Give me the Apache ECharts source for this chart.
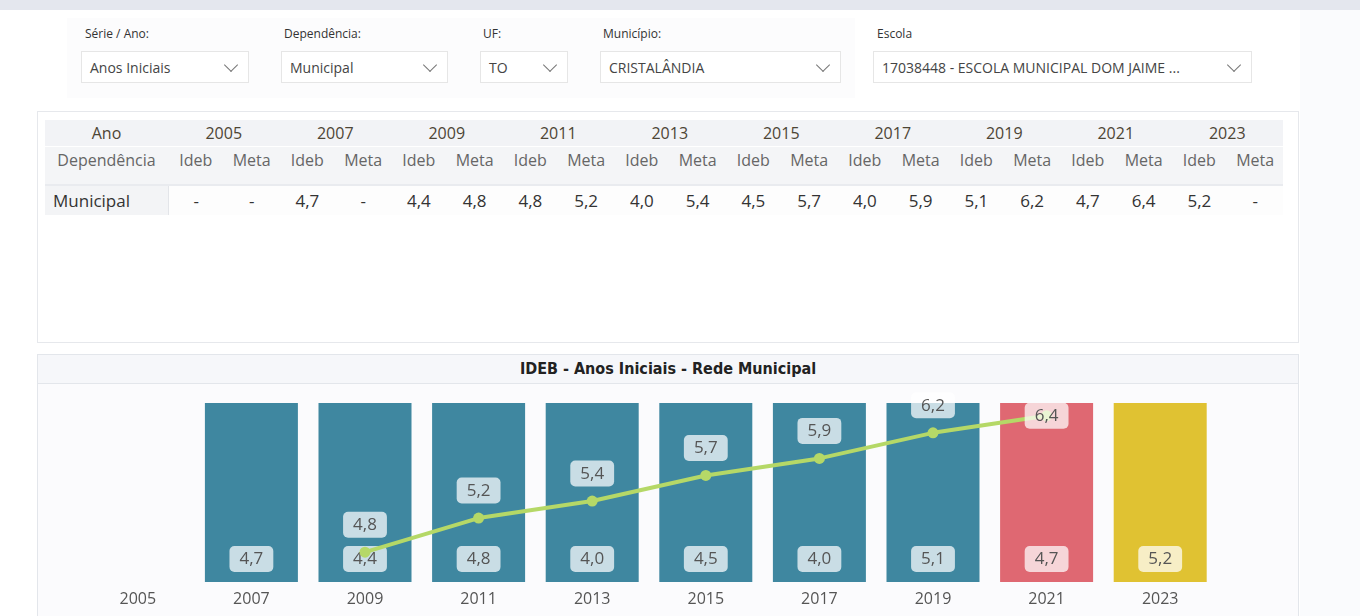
<!DOCTYPE html>
<html>
<head>
<meta charset="utf-8">
<script src="https://cdn.jsdelivr.net/npm/echarts@6/dist/echarts.min.js"></script>
<style>
  body { margin: 0; width: 1360px; height: 616px; overflow: hidden; background: #ffffff; font-family: "Open Sans", "Noto Sans", sans-serif; position: relative; }
  .abs { position: absolute; }
  .topband { left: 0; top: 0; width: 1360px; height: 10px; background: #e4e7ee; }
  .rightstrip { left: 1300px; top: 10px; width: 60px; height: 606px; background: #fafbfd; }
  .panel1 { left: 67px; top: 18px; width: 788px; height: 80px; background: #fcfcfd; }
  .panel2 { left: 857px; top: 18px; width: 411px; height: 80px; background: #ffffff; }
  .flabel { font-size: 12px; color: #333; }
  .fbox { height: 32px; border: 1px solid #e6e6e6; background: #fff; box-sizing: border-box; font-size: 14px; color: #444; line-height: 32px; padding-left: 8px; white-space: nowrap; }
  .chev { position: absolute; right: 12px; top: 8px; width: 9px; height: 9px; border-right: 1.3px solid #777; border-bottom: 1.3px solid #777; transform: rotate(45deg); }
  .tpanel { left: 37px; top: 111px; width: 1262px; height: 232px; border: 1px solid #e6e8ec; box-sizing: border-box; background: #fff; }
  table { position: absolute; left: 45px; top: 120px; border-collapse: collapse; table-layout: fixed; width: 1238px; }
  td { padding: 0; text-align: center; white-space: nowrap; }
  tr.h1 td { background: #f2f3f6; height: 26px; font-size: 16px; color: #4d4535; border-bottom: 1px solid #ffffff; }
  tr.h2 td { background: #f4f5f7; height: 35px; font-size: 16px; color: #666; vertical-align: top; padding-top: 2px; border-bottom: 2px solid #e9ebef; }
  tr.d td { height: 29px; font-size: 17px; color: #333; background: #fdfdfd; }
  tr.d td.first { background: #f3f4f6; border-right: 1px solid #e3e5e9; text-align: left; padding-left: 8px; }
  .cpanel { left: 37px; top: 354px; width: 1262px; height: 270px; border: 1px solid #e3e6eb; box-sizing: border-box; background: #fbfbfd; }
  .ctitle { left: 38px; top: 355px; width: 1260px; height: 28px; background: #f6f7fa; border-bottom: 1px solid #e3e6eb; text-align: center; font-size: 16px; font-weight: bold; color: #222; line-height: 28px; font-family: "DejaVu Sans Condensed", "Roboto", sans-serif; }
</style>
</head>
<body>
<div class="abs topband"></div>
<div class="abs rightstrip"></div>
<div class="abs panel1"></div>
<div class="abs panel2"></div>

<div class="abs flabel" style="left:85px;top:25px;">Série / Ano:</div>
<div class="abs fbox" style="left:81px;top:51px;width:168px;">Anos Iniciais<span class="chev"></span></div>
<div class="abs flabel" style="left:284px;top:25px;">Dependência:</div>
<div class="abs fbox" style="left:281px;top:51px;width:167px;">Municipal<span class="chev"></span></div>
<div class="abs flabel" style="left:483px;top:25px;">UF:</div>
<div class="abs fbox" style="left:480px;top:51px;width:88px;">TO<span class="chev"></span></div>
<div class="abs flabel" style="left:603px;top:25px;">Município:</div>
<div class="abs fbox" style="left:600px;top:51px;width:241px;">CRISTALÂNDIA<span class="chev"></span></div>
<div class="abs flabel" style="left:877px;top:25px;">Escola</div>
<div class="abs fbox" style="left:873px;top:51px;width:379px;">17038448 - ESCOLA MUNICIPAL DOM JAIME ...<span class="chev"></span></div>

<div class="abs tpanel"></div>
<table id="tbl"></table>

<div class="abs cpanel"></div>
<div class="abs ctitle">IDEB - Anos Iniciais - Rede Municipal</div>
<div id="main" class="abs" style="left:38px;top:384px;width:1260px;height:232px;"></div>

<script>
var years = ['2005', '2007', '2009', '2011', '2013', '2015', '2017', '2019', '2021', '2023'];
var idebValues = [null, 4.7, 4.4, 4.8, 4.0, 4.5, 4.0, 5.1, 4.7, 5.2];
var metaValues = [null, null, 4.8, 5.2, 5.4, 5.7, 5.9, 6.2, 6.4, null];
var dependencia = 'Municipal';

function fmt(v) {
    if (v === null || v === undefined) return '-';
    return v.toFixed(1).replace('.', ',');
}

// tabela
var tbl = document.getElementById('tbl');
var html = '<colgroup><col style="width:123px">';
for (var i = 0; i < years.length * 2; i++) html += '<col>';
html += '</colgroup>';
html += '<tr class="h1"><td>Ano</td>';
years.forEach(function (y) { html += '<td colspan="2">' + y + '</td>'; });
html += '</tr><tr class="h2"><td>Dependência</td>';
years.forEach(function () { html += '<td>Ideb</td><td>Meta</td>'; });
html += '</tr><tr class="d"><td class="first">' + dependencia + '</td>';
years.forEach(function (y, i) { html += '<td>' + fmt(idebValues[i]) + '</td><td>' + fmt(metaValues[i]) + '</td>'; });
html += '</tr>';
tbl.innerHTML = html;

// grafico
var myChart = echarts.init(document.getElementById('main'));

var teal = '#3f87a0';
var barColors = { '2021': '#df6872', '2023': '#e0c232' };

var labelBox = {
    show: true,
    color: '#555',
    fontSize: 17,
    fontFamily: 'Open Sans',
    backgroundColor: 'rgba(255,255,255,0.72)',
    borderRadius: 5,
    padding: [5, 10, 4, 10],
    formatter: function (p) { return fmt(p.value); }
};

var metaMax = Math.max.apply(null, metaValues.filter(function (v) { return v !== null; }));

var option = {
    animation: false,
    grid: { left: 43, right: 81, top: 19, bottom: 34 },
    xAxis: {
        type: 'category',
        data: years,
        axisLine: { show: false },
        axisTick: { show: false },
        axisLabel: { color: '#555', fontSize: 16, margin: 9, fontFamily: 'Open Sans' }
    },
    yAxis: [
        { type: 'value', min: 0, max: 4, show: false },
        { type: 'value', min: 4.45, max: 6.55, show: false }
    ],
    series: [
        {
            name: 'Ideb',
            type: 'bar',
            barWidth: 93,
            clip: true,
            data: idebValues.map(function (v, i) {
                return { value: v, itemStyle: { color: barColors[years[i]] || teal } };
            }),
            label: Object.assign({}, labelBox, { position: 'insideBottom', distance: 10 })
        },
        {
            name: 'Meta',
            type: 'line',
            yAxisIndex: 1,
            // o rótulo do ponto mais alto fica dentro da área do gráfico
            data: metaValues.map(function (v) {
                if (v !== null && v === metaMax) return { value: v, label: { position: 'inside' } };
                return v;
            }),
            symbol: 'circle',
            symbolSize: 11,
            lineStyle: { color: '#b5d867', width: 4 },
            itemStyle: { color: '#b5d867' },
            label: Object.assign({}, labelBox, { position: 'top', distance: 9 }),
            z: 5
        }
    ]
};
myChart.setOption(option);
</script>
</body>
</html>
